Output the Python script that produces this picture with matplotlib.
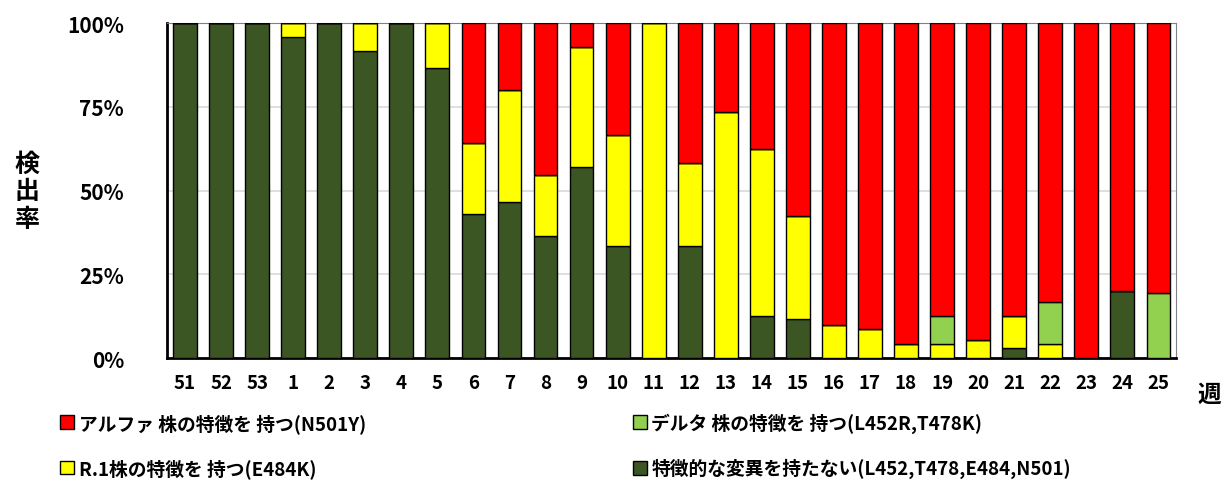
import matplotlib
matplotlib.use("Agg")
import matplotlib.pyplot as plt
import numpy as np

plt.rcParams['font.family'] = ['Noto Sans CJK JP', 'DejaVu Sans']
plt.rcParams['font.weight'] = 'bold'

##############################################################################
# Data (percent of detected samples per week)

weeks = ["51", "52", "53", "1", "2", "3", "4", "5", "6", "7", "8", "9", "10",
         "11", "12", "13", "14", "15", "16", "17", "18", "19", "20", "21",
         "22", "23", "24", "25"]

no_mutation = [100, 100, 100, 95.7, 100, 91.7, 100, 86.7, 42.9, 46.7, 36.4,
               57.1, 33.3, 0, 33.3, 0, 12.5, 11.5, 0, 0, 0, 0, 0, 3.1,
               0, 0, 20.0, 0]
r1 = [0, 0, 0, 4.3, 0, 8.3, 0, 13.3, 21.4, 33.3, 18.2,
      35.7, 33.3, 100, 25.0, 73.3, 50.0, 30.8, 10.0, 8.7, 4.3, 4.2, 5.3, 9.4,
      4.3, 0, 0, 0]
delta = [0, 0, 0, 0, 0, 0, 0, 0, 0, 0, 0,
         0, 0, 0, 0, 0, 0, 0, 0, 0, 0, 8.3, 0, 0,
         12.5, 0, 0, 19.4]
alpha = [100 - a - b - c for a, b, c in zip(no_mutation, r1, delta)]

labels = {
    "alpha": "アルファ 株の特徴を 持つ(N501Y)",
    "r1": "R.1株の特徴を 持つ(E484K)",
    "delta": "デルタ 株の特徴を 持つ(L452R,T478K)",
    "none": "特徴的な変異を持たない(L452,T478,E484,N501)",
}

##############################################################################
# Plotting

fig = plt.figure(figsize=(12.28, 4.81), dpi=100)
ax = fig.add_axes([0.136, 0.2536, 0.822, 0.6964])

x = np.arange(len(weeks))
w = 0.66
kw = dict(width=w, edgecolor="black", linewidth=1.0, zorder=3)

b_none = ax.bar(x, no_mutation, color="#3B5523", label=labels["none"], **kw)
bottom = np.array(no_mutation, dtype=float)
b_r1 = ax.bar(x, r1, bottom=bottom, color="#FFFF00", label=labels["r1"], **kw)
bottom += np.array(r1)
b_delta = ax.bar(x, delta, bottom=bottom, color="#92D050", label=labels["delta"], **kw)
bottom += np.array(delta)
b_alpha = ax.bar(x, alpha, bottom=bottom, color="#FF0000", label=labels["alpha"], **kw)

ax.set_xlim(-0.5, len(weeks) - 0.5)
ax.set_ylim(0, 100)
ax.set_yticks([0, 25, 50, 75, 100])
ax.set_yticklabels(["0%", "25%", "50%", "75%", "100%"], fontsize=15, fontweight="bold")
ax.set_xticks(x)
ax.set_xticklabels(weeks, fontsize=13.5, fontweight="bold")
ax.tick_params(axis="both", length=0)
ax.tick_params(axis="y", pad=31)
ax.tick_params(axis="x", pad=11)
ax.yaxis.grid(True, color="#d9d9d9", linewidth=1.2, zorder=0)

for side in ["top", "right"]:
    ax.spines[side].set_color("#808080")
for side in ["left", "bottom"]:
    ax.spines[side].set_color("black")
    ax.spines[side].set_linewidth(2)

# vertical y label, one character per line
fig.text(0.022, 0.60, "検\n出\n率", fontsize=18, fontweight="bold",
         ha="center", va="center", linespacing=1.2)
fig.text(0.985, 0.18, "週", fontsize=17, fontweight="bold", ha="center", va="center")

handles = [b_alpha, b_r1, b_delta, b_none]
leg = fig.legend(handles, [h.get_label() for h in handles], ncol=2,
                 loc="upper left", bbox_to_anchor=(0.043, 0.156),
                 frameon=False, fontsize=13.5, handlelength=0.75,
                 handleheight=0.75, handletextpad=0.25, columnspacing=14.2,
                 labelspacing=1.35, borderaxespad=0)
for t in leg.get_texts():
    t.set_fontweight("bold")

fig.savefig("out.png", dpi=100)
